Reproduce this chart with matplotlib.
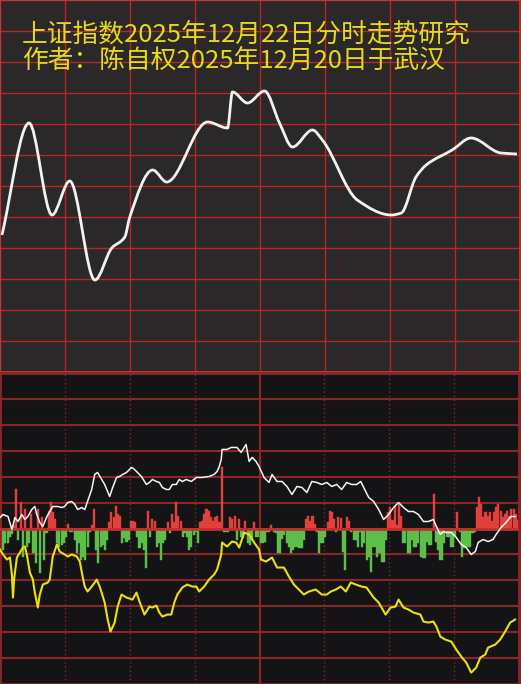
import numpy as np
import matplotlib.pyplot as plt
from matplotlib.path import Path
from matplotlib.patches import PathPatch

plt.rcParams['font.family'] = ['Noto Sans CJK SC', 'DejaVu Sans']

title1 = '上证指数2025年12月22日分时走势研究'
title2 = '作者：陈自权2025年12月20日于武汉'

# top panel: smoothed intraday index curve (minutes, arbitrary units)
top_t = [0.9, 13.4, 24, 32.2, 43.8, 51.6, 57.6, 59.9, 70.5, 76.9, 95.8, 105, 107.3, 114.2,
         122.1, 129, 135, 144.2, 148.8, 164.9, 180.6, 185.2, 192, 196.7, 208.7, 217.4, 231.2, 238.6]
top_v = [137, 249, 157, 191, 92, 124, 135, 155, 202, 190, 250, 244, 280, 269,
         281, 249, 225, 242, 232, 172, 157, 159, 195, 207, 222, 234, 219, 218]

# bottom panel: white line
white_t = [0, 1.4, 3.7, 5.5, 6.9, 8.3, 10.1, 11.5, 12.9, 14.7, 16.1, 17, 18.4, 19.8, 21.7, 23, 24.4,
           26.7, 28.6, 29.9, 31.3, 33.2, 34.6, 35.9, 37.8, 39.2, 40.5, 42.4, 43.8, 45.1, 47, 48.4,
           50.7, 52.1, 53.9, 55.3, 56.7, 58.5, 60.8, 62.2, 63.6, 65.4, 67.7, 69.1, 70.5, 72.3, 73.7,
           75.1, 76.9, 78.3, 79.7, 81.5, 82.9, 84.3, 86.1, 88.5, 90.8, 93.5, 96.7, 99, 100.4, 101.4,
           102.3, 102.7, 105, 106.9, 109.6, 111.5, 113.8, 115.2, 116.6, 118.4, 119.8, 122.1, 124.4,
           125.8, 128.1, 130.4, 132.7, 135, 137.3, 139.6, 141.9, 144.2, 146.5, 148.8, 151.1, 153.4,
           155.7, 158, 160.3, 162.6, 164.9, 166.8, 168.2, 170.5, 172.8, 175.1, 177.4, 179.7, 182,
           184.3, 186.6, 188.9, 191.2, 193.5, 195.8, 198.1, 200.4, 201.8, 203.6, 205, 206.4, 208.7,
           211, 213.3, 215.6, 217.9, 219.8, 221.1, 223.4, 225.7, 228, 229.4, 231.7, 234, 236.3, 238.2]
white_v = [11, 14, 12, -1, 11, 7, 14, 9, 12, 19, 22, 14, 6, 2, 12, 17, 22,
           22, 21, 22, 26, 27, 24, 19, 21, 19, 27, 39, 54, 56, 49, 44,
           32, 41, 51, 52, 54, 56, 61, 59, 56, 52, 44, 46, 49, 47, 46,
           41, 39, 39, 44, 44, 49, 47, 49, 47, 51, 51, 52, 54, 57, 62,
           69, 79, 79, 81, 81, 76, 84, 67, 71, 67, 62, 51, 46,
           54, 47, 47, 42, 34, 42, 41, 36, 47, 46, 44, 46, 42,
           44, 39, 46, 44, 44, 47, 41, 31, 27, 19, 9, 14, 21,
           26, 21, 17, 17, 14, 7, 7, 9, 2, -6, -3, -4, -4,
           -9, -16, -19, -26, -23, -14, -11, -13, -11, -6, 1, 6, 12, 12]

# bottom panel: yellow line
yellow_t = [0, 1.4, 3.2, 4.6, 5.5, 6.0, 6.5, 7.8, 9.2, 10.6, 11.5, 12.4, 13.8, 15.2, 16.1, 17.5,
            18.4, 19.8, 22.1, 23, 24.4, 26.3, 27.6, 29.9, 31.3, 33.2, 35.5, 36.9, 38.2, 39.2, 40.5,
            42.4, 43.8, 44.7, 46.1, 48.4, 49.8, 51.1, 53, 54.4, 56.2, 58.5, 61.3, 63.1, 64.5, 66.8,
            69.1, 70.5, 72.3, 73.7, 75.1, 77.4, 79.2, 80.6, 82, 84.3, 86.6, 88.9, 90.8, 92.1, 94.4,
            96.7, 99, 100.4, 102.3, 102.7, 105, 107.3, 109.2, 110.6, 112.9, 115.2, 117.5, 119.8,
            120.7, 123, 125.8, 128.1, 131.3, 133.6, 135.9, 138.2, 140.5, 142.8, 146, 148.8, 151.1,
            153, 155.3, 157.6, 159.9, 162.2, 164.5, 167.2, 169.5, 172.8, 175.1, 178.3, 180.6, 182.9,
            184.3, 186.6, 188.9, 191.2, 194.4, 195.8, 198.1, 200.4, 201.8, 203.6, 205.9, 208.7, 211,
            213.3, 215.6, 217.9, 220.2, 222.1, 224.4, 225.7, 229, 231.3, 233.6, 235.9, 238.2]
yellow_v = [-21, -26, -31, -29, -46, -69, -51, -29, -24, -19, -18, -26, -44, -51, -64, -79,
            -66, -56, -54, -51, -28, -16, -23, -26, -28, -26, -28, -33, -48, -58, -63,
            -58, -54, -51, -58, -74, -91, -103, -94, -78, -66, -69, -71, -64, -73, -86,
            -78, -79, -77, -84, -88, -86, -86, -74, -66, -59, -56, -58, -58, -63, -58,
            -51, -46, -41, -26, -14, -18, -13, -14, -19, -4, -6, -14, -21,
            -31, -33, -29, -39, -39, -48, -56, -61, -66, -63, -61, -66, -66,
            -63, -61, -58, -63, -54, -56, -58, -59, -69, -74, -86, -79, -78,
            -71, -79, -81, -84, -86, -93, -94, -93, -98, -108, -111, -113, -121,
            -128, -134, -144, -139, -129, -126, -119, -116, -111, -103, -94, -91]

# bottom panel: bars, one per minute (positive red, negative green)
bars = [-21, -21, -14, -14, -8, -5, 3, 39, -11, 26, -28, 19, -18, -14, 14, -24, -34, 19, -44, 11,
        -31, -4, 17, 26, 16, 9, -14, -18, -16, -14, -8, 4, -3, -3, -11, -24, -14, -31, -28, -31,
        -18, -3, 3, 19, -21, -34, -18, -16, -21, -11, 6, 16, 11, 22, 14, 12, -14, -9, -13, -11,
        7, 7, 6, -8, -19, -14, -21, -39, 17, -8, 9, 7, -18, -14, -31, -14, -11, 6, -4, 14,
        6, 26, 12, 7, -8, -4, -8, -21, -18, -6, -3, -14, 6, 7, 14, 19, 17, 11, 7, 11,
        12, 6, 61, -3, -3, -3, 11, 9, 12, -11, 9, -8, -9, 7, -14, -16, -11, 6, -8, -8,
        -14, -14, -13, -3, -3, 3, -3, -4, -24, -24, -10, -6, -14, -18, -24, -21, -18, -18, -19, -19,
        -11, 9, 12, 7, 12, 4, -3, -24, -14, -14, -8, 6, 17, 16, 9, -3, 11, 10, -23, -41,
        11, 7, -3, -11, -11, -18, -3, -18, -14, -31, -28, -43, -18, -18, -28, -24, -33, -33, -11, 16,
        21, 8, 22, 3, 24, 12, -14, -14, -24, -24, -11, -18, -18, -14, -28, -29, -29, -13, -16, -16,
        34, -13, -21, -31, -31, -14, -8, -8, -18, -18, -8, 16, -3, -28, -19, -19, -18, -18, -4, -3,
        21, 31, 24, 11, 16, 12, 16, 7, 16, 21, 24, 17, 11, 14, 17, 12, 19, 19, 14, 8]


def smooth_path(x, y):
    # monotone cubic (pchip style) drawn as bezier segments
    x = np.asarray(x, float)
    y = np.asarray(y, float)
    h = np.diff(x)
    d = np.diff(y) / h
    m = np.zeros(len(x))
    m[0], m[-1] = d[0], d[-1]
    for k in range(1, len(x) - 1):
        if d[k - 1] * d[k] > 0:
            w1 = 2 * h[k] + h[k - 1]
            w2 = h[k] + 2 * h[k - 1]
            m[k] = (w1 + w2) / (w1 / d[k - 1] + w2 / d[k])
    verts = [(x[0], y[0])]
    codes = [Path.MOVETO]
    for i in range(len(x) - 1):
        verts += [(x[i] + h[i] / 3, y[i] + m[i] * h[i] / 3),
                  (x[i + 1] - h[i] / 3, y[i + 1] - m[i + 1] * h[i] / 3),
                  (x[i + 1], y[i + 1])]
        codes += [Path.CURVE4] * 3
    return Path(verts, codes)


fig = plt.figure(figsize=(5.21, 6.84), dpi=100)
fig.patch.set_facecolor('black')

# ---- top panel
ax1 = fig.add_axes([0, 312 / 684, 520 / 521, 372 / 684])
ax1.set_facecolor('#2a2829')
ax1.set_xlim(0, 240)
ax1.set_ylim(0, 372)
ax1.set_xticks(np.arange(0, 241, 30))
ax1.set_yticks(np.arange(0, 373, 31))
ax1.grid(True, color='#b82626', lw=1)
ax1.tick_params(length=0, labelbottom=False, labelleft=False)
for s in ax1.spines.values():
    s.set_color('#c83a3a')
    s.set_linewidth(1.2)
ax1.add_patch(PathPatch(smooth_path(top_t, top_v), fc='none', ec='#f2f2f2', lw=2, zorder=3))

# ---- bottom panel
row = 25.9
ax2 = fig.add_axes([0, 0, 519 / 521, 311 / 684])
ax2.set_facecolor('#141416')
ax2.set_xlim(0, 240)
ax2.set_ylim(-6 * row, 6 * row)
ax2.set_xticks([])
ax2.set_yticks([])
for k in range(-5, 6):
    ax2.axhline(k * row, color='#8c2626', lw=1.5, zorder=1)
for t in [30, 60, 90, 150, 180, 210]:
    ax2.axvline(t, color='#7a2c2c', lw=1, ls=(0, (1, 2)), zorder=1)
ax2.axvline(120, color='#8c2626', lw=1.5, zorder=1)
for s in ax2.spines.values():
    s.set_color('#8c2626')
    s.set_linewidth(2)

bars = np.array(bars)
mins = np.arange(len(bars)) + 0.5
bar_colors = np.where(bars >= 0, '#e2403a', '#5cbf4a')
ax2.bar(mins, bars, width=0.95, color=bar_colors, edgecolor=bar_colors, lw=0.3, zorder=2)
ax2.axhline(0, color='#c22e2e', lw=2, zorder=3)

ax2.plot(white_t, white_v, color='#f4f4f4', lw=1.1, zorder=4)
ax2.plot(yellow_t, yellow_v, color='#e8e010', lw=1.5, zorder=4)

# ---- titles
fig.text(22 / 521, 1 - 35 / 684, title1, color='#e8d81a', fontsize=18.5, va='center', ha='left')
fig.text(22 / 521, 1 - 61 / 684, title2, color='#e8d81a', fontsize=18.5, va='center', ha='left')

fig.savefig('out.png', dpi=100, facecolor=fig.get_facecolor())
